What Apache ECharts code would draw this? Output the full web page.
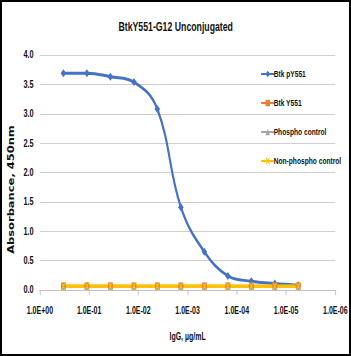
<!DOCTYPE html>
<html>
<head>
<meta charset="utf-8">
<title>BtkY551-G12 Unconjugated</title>
<script src="https://cdn.jsdelivr.net/npm/echarts@6/dist/echarts.min.js"></script>
<style>
  html, body { margin: 0; padding: 0; background: #fff; overflow: hidden; }
  #frame { position: relative; width: 351px; height: 356px; box-sizing: border-box; border: 2px solid #000; overflow: hidden; }
  /* the original picture is squeezed sideways: draw wider, then scale x */
  #main { position: absolute; left: -2px; top: -2px; width: 502px; height: 356px; transform: scaleX(0.7); transform-origin: 0 0; }
</style>
</head>
<body>
<div id="frame"><div id="main"></div></div>
<script type="text/javascript">
    // IgG concentration, ug/mL (1:3 serial dilution)
    var concentrations = [3.33e-1, 1.11e-1, 3.70e-2, 1.23e-2, 4.12e-3, 1.37e-3, 4.57e-4, 1.52e-4, 5.08e-5, 1.69e-5, 5.65e-6];
    var btkPY551 = [3.69, 3.69, 3.63, 3.54, 3.08, 1.41, 0.65, 0.24, 0.15, 0.11, 0.08];
    var btkY551 = [0.07, 0.07, 0.07, 0.07, 0.07, 0.07, 0.07, 0.07, 0.07, 0.07, 0.07];
    var phosphoControl = [0.06, 0.06, 0.06, 0.06, 0.06, 0.06, 0.06, 0.06, 0.06, 0.06, 0.06];
    var nonPhosphoControl = [0.065, 0.065, 0.065, 0.065, 0.065, 0.065, 0.065, 0.065, 0.065, 0.065, 0.065];
    var seriesNames = ['Btk pY551', 'Btk Y551', 'Phospho control', 'Non-phospho control'];

    var font = "'Liberation Sans', Arial, sans-serif";
    var ink = '#111';

    var pairs = function (ys) {
        var out = [];
        for (var i = 0; i < concentrations.length; i++) {
            out.push([concentrations[i], ys[i]]);
        }
        return out;
    };

    var xMark = 'path://M0,0 L2,0 L5,3 L8,0 L10,0 L6,5 L10,10 L8,10 L5,7 L2,10 L0,10 L4,5 Z';

    var myChart = echarts.init(document.getElementById('main'), null, { renderer: 'svg' });
    var option = {
        animation: false,
        title: {
            text: 'BtkY551-G12 Unconjugated',
            left: 'center',
            top: 15,
            textStyle: { fontFamily: font, fontSize: 12.5, fontWeight: 'bold', color: ink }
        },
        legend: {
            orient: 'vertical',
            left: 367,
            top: 64,
            itemGap: 19,
            itemWidth: 19,
            itemHeight: 8,
            data: seriesNames,
            textStyle: { fontFamily: font, fontSize: 9.5, fontWeight: 'bold', color: ink, padding: [0, 0, 0, -6] }
        },
        grid: { left: 57, right: 23, top: 55, bottom: 66, containLabel: false, outerBoundsMode: 'none' },
        xAxis: {
            type: 'log',
            logBase: 10,
            min: 1e-6,
            max: 1,
            inverse: true,
            name: 'IgG, µg/mL',
            nameLocation: 'middle',
            nameGap: 42,
            nameTextStyle: { fontFamily: font, fontSize: 10, fontWeight: 'bold', color: ink },
            axisLine: { lineStyle: { color: '#bfbfbf', width: 1 } },
            axisTick: { show: true, length: 5, lineStyle: { color: '#bfbfbf', width: 1.3 } },
            splitLine: { show: false },
            minorTick: { show: false },
            axisLabel: {
                margin: 16,
                fontFamily: font,
                fontSize: 10,
                fontWeight: 'bold',
                color: ink,
                formatter: function (v) {
                    var e = Math.round(Math.log10(v));
                    var a = Math.abs(e);
                    return '1.0E' + (e < 0 ? '-' : '+') + (a < 10 ? '0' + a : a);
                }
            }
        },
        yAxis: {
            type: 'value',
            min: 0,
            max: 4,
            interval: 0.5,
            name: 'Absorbance, 450nm',
            nameLocation: 'middle',
            nameGap: 23,
            nameTextStyle: { fontFamily: "'DejaVu Sans', sans-serif", fontSize: 11.5, fontWeight: 'bold', color: ink, padding: [0, 34, 0, 0] },
            axisLine: { show: false },
            axisTick: { show: false },
            splitLine: { lineStyle: { color: '#c6c6c6', width: 1 } },
            axisLabel: {
                margin: 9,
                fontFamily: font,
                fontSize: 10.5,
                fontWeight: 'bold',
                color: ink,
                formatter: function (v) { return v.toFixed(1); }
            }
        },
        series: [
            {
                name: seriesNames[0],
                type: 'line',
                smooth: 0.4,
                data: pairs(btkPY551),
                symbol: 'diamond',
                symbolSize: 8,
                itemStyle: { color: '#4472C4' },
                lineStyle: { color: '#4472C4', width: 3 }
            },
            {
                name: seriesNames[1],
                type: 'line',
                data: pairs(btkY551),
                symbol: 'rect',
                symbolSize: 7,
                itemStyle: { color: '#ED7D31' },
                lineStyle: { color: '#ED7D31', width: 2.5 }
            },
            {
                name: seriesNames[2],
                type: 'line',
                data: pairs(phosphoControl),
                symbol: 'triangle',
                symbolSize: 7,
                itemStyle: { color: '#A5A5A5' },
                lineStyle: { color: '#A5A5A5', width: 2.5 }
            },
            {
                name: seriesNames[3],
                type: 'line',
                data: pairs(nonPhosphoControl),
                symbol: xMark,
                symbolSize: 7,
                itemStyle: { color: '#FFC000' },
                lineStyle: { color: '#FFC000', width: 3.5 }
            }
        ]
    };
    myChart.setOption(option);
</script>
</body>
</html>
